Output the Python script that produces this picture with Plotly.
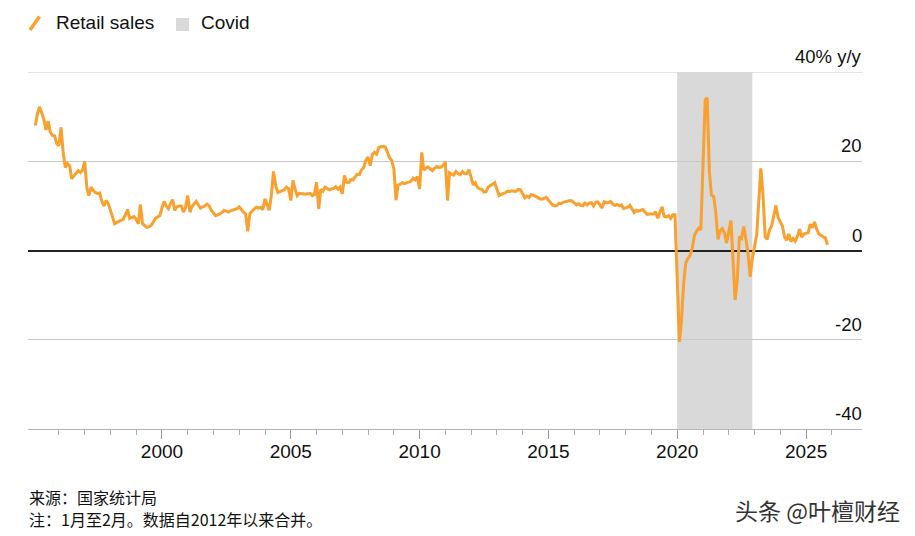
import pandas as pd
import plotly.graph_objects as go

# ---- data: China retail sales, % y/y, monthly (Feb 1995 - Nov 2025) ----
# Since 2012 January is combined with February (January = None)
yoy_1995_1999 = [
    28.0, 30.5, 32.2, 31.0, 29.5, 27.0, 29.0, 26.5, 25.8, 25.7, 24.0,          # 1995 Feb-Dec
    23.5, 27.6, 22.0, 18.6, 19.5, 19.0, 16.1, 16.8, 17.5, 17.9, 17.5, 18.0,    # 1996
    19.9, 14.0, 12.3, 14.2, 13.5, 13.0, 12.8, 12.9, 11.0, 10.0, 11.2, 10.5,    # 1997
    9.0, 7.5, 6.0, 6.3, 6.5, 6.7, 7.0, 8.0, 9.2, 7.2, 7.4, 7.6,                # 1998
    7.0, 6.0, 10.3, 6.0, 5.6, 5.2, 5.3, 5.6, 6.4, 7.2, 7.5, 7.8,               # 1999
]
yoy_2000_2004 = [
    9.5, 11.0, 10.0, 9.4, 10.5, 11.4, 9.0, 9.8, 10.0, 10.0, 8.6, 9.7,          # 2000
    12.3, 8.6, 9.8, 10.5, 11.0, 10.2, 9.5, 9.8, 10.0, 10.4, 10.0, 9.0,         # 2001
    8.5, 7.8, 8.0, 8.2, 8.5, 9.0, 8.8, 8.6, 8.9, 9.1, 9.3, 9.4,                # 2002
    9.8, 9.0, 8.6, 8.2, 4.3, 8.3, 8.9, 9.3, 9.7, 9.5, 9.7, 9.1,                # 2003
    11.6, 10.0, 9.0, 12.5, 17.7, 14.5, 13.0, 13.2, 13.4, 13.6, 14.2, 13.8,     # 2004
]
yoy_2005_2009 = [
    11.2, 15.7, 13.9, 12.3, 12.8, 12.7, 12.7, 12.6, 12.7, 12.8, 12.3, 12.5,    # 2005
    15.3, 9.3, 13.7, 13.3, 14.2, 13.9, 13.6, 13.8, 13.9, 14.3, 13.7, 14.2,     # 2006
    12.7, 16.8, 15.3, 15.2, 15.9, 15.8, 16.4, 17.1, 17.0, 18.1, 18.6, 20.2,    # 2007
    20.9, 19.0, 21.5, 22.0, 21.6, 23.0, 23.3, 23.2, 23.2, 22.0, 20.8, 20.2,    # 2008
    18.3, 11.3, 14.7, 14.8, 15.2, 15.0, 15.2, 15.4, 15.5, 16.2, 15.8, 16.6,    # 2009
]
yoy_2010_2014 = [
    13.8, 22.0, 18.0, 18.5, 18.7, 18.3, 17.9, 18.4, 18.8, 18.6, 18.7, 19.1,    # 2010
    19.8, 11.2, 17.4, 17.1, 16.9, 17.7, 17.2, 17.0, 17.7, 17.2, 17.3, 18.1,    # 2011
    None, 14.7, 15.2, 14.1, 13.8, 13.7, 13.1, 13.2, 14.2, 14.5, 14.9, 15.2,    # 2012
    None, 12.3, 12.6, 12.8, 12.9, 13.3, 13.2, 13.4, 13.3, 13.3, 13.7, 13.6,    # 2013
    None, 11.8, 12.2, 11.9, 12.5, 12.4, 12.2, 11.9, 11.6, 11.5, 11.7, 11.9,    # 2014
]
yoy_2015_2019 = [
    None, 10.7, 10.2, 10.0, 10.1, 10.6, 10.5, 10.8, 10.9, 11.0, 11.2, 11.1,    # 2015
    None, 10.2, 10.5, 10.1, 10.0, 10.6, 10.2, 10.6, 10.7, 10.0, 10.8, 10.9,    # 2016
    None, 9.5, 10.9, 10.7, 10.7, 11.0, 10.4, 10.1, 10.3, 10.0, 10.2, 9.4,      # 2017
    None, 9.7, 10.1, 9.4, 8.5, 9.0, 8.8, 9.0, 9.2, 8.6, 8.1, 8.2,              # 2018
    None, 8.2, 8.7, 7.2, 8.6, 9.8, 7.6, 7.5, 7.8, 7.2, 8.0, 8.0,               # 2019
]
yoy_2020_2025 = [
    None, -20.5, -15.8, -7.5, -2.8, -1.8, -1.1, 0.5, 3.3, 4.3, 5.0, 4.6,       # 2020
    None, 33.8, 34.2, 17.7, 12.4, 12.1, 8.5, 2.5, 4.4, 4.9, 3.9, 1.7,          # 2021
    None, 6.7, -3.5, -11.1, -6.7, 3.1, 2.7, 5.4, 2.5, -0.5, -5.9, -1.8,        # 2022
    None, 3.5, 10.6, 18.4, 12.7, 3.1, 2.5, 4.6, 5.5, 7.6, 10.1, 7.4,           # 2023
    None, 5.5, 3.1, 2.3, 3.7, 2.0, 2.7, 2.1, 3.2, 4.8, 3.0, 3.7,               # 2024
    None, 4.0, 5.9, 5.1, 6.4, 4.8, 3.7, 3.4, 3.0, 2.9, 1.3,                    # 2025
]
first_month = "1995-02-01"
last_month = "2025-11-01"

covid_start = "2020-01-01"
covid_end = "2022-12-01"

xtick_years = [2000, 2005, 2010, 2015, 2020, 2025]
xminor_years = list(range(1996, 2027))

ytick_vals = [40, 20, 0, -20, -40]
ytick_text = ["40% y/y", "20", "0", "-20", "-40"]

legend_labels = ["Retail sales", "Covid"]
source_lines = ["来源：国家统计局", "注：1月至2月。数据自2012年以来合并。"]
watermark = "头条 @叶檀财经"

# ---- build ----
values = yoy_1995_1999 + yoy_2000_2004 + yoy_2005_2009 + yoy_2010_2014 + yoy_2015_2019 + yoy_2020_2025
dates = pd.date_range(first_month, last_month, freq="MS")
assert len(dates) == len(values)

ORANGE = "#F9A02E"
LATIN = "Liberation Sans, Arial, Helvetica, sans-serif"
CJK = "Noto Sans CJK SC, sans-serif"

# page offset (body margin of the html page)
OFF = 8
W, H = 907, 528
L, R, T, B = 20, 53, 64, 107
pw, ph = W - L - R, H - T - B


def px(xp):  # page pixel x -> paper
    return (xp - OFF - L) / pw


def py(yp):  # page pixel y -> paper
    return (H - B - (yp - OFF)) / ph


fig = go.Figure()
fig.add_trace(go.Scatter(
    x=dates, y=values, mode="lines", connectgaps=True,
    line=dict(color=ORANGE, width=3), name=legend_labels[0], showlegend=False,
))

# Covid shading
fig.add_shape(type="rect", xref="x", yref="y", x0=covid_start, x1=covid_end,
              y0=-40, y1=40, fillcolor="#d9d9d9", line=dict(width=0), layer="below")

# top gridline (edge gridlines are not drawn by plotly)
fig.add_shape(type="line", xref="paper", yref="y", x0=0, x1=1, y0=ytick_vals[0], y1=ytick_vals[0],
              line=dict(color="#c8c8c8", width=1), layer="below")

# manual legend
fig.add_shape(type="line", xref="paper", yref="paper",
              x0=px(30), y0=py(30), x1=px(39.5), y1=py(16.5),
              line=dict(color=ORANGE, width=3.5))
fig.add_shape(type="rect", xref="paper", yref="paper",
              x0=px(176), y0=py(31), x1=px(189), y1=py(18),
              fillcolor="#d9d9d9", line=dict(width=0))
fig.add_annotation(xref="paper", yref="paper", x=px(54), y=py(22), text=legend_labels[0],
                   showarrow=False, xanchor="left", yanchor="middle",
                   font=dict(family=LATIN, size=19, color="#111"))
fig.add_annotation(xref="paper", yref="paper", x=px(199), y=py(22), text=legend_labels[1],
                   showarrow=False, xanchor="left", yanchor="middle",
                   font=dict(family=LATIN, size=19, color="#111"))

# y labels above the gridlines on the right
for v, t in zip(ytick_vals, ytick_text):
    fig.add_annotation(xref="paper", yref="y", x=1, y=v, text=t, showarrow=False,
                       xanchor="right", yanchor="bottom", yshift=3, xshift=2,
                       font=dict(family=LATIN, size=18.5, color="#111"))

# source notes
for i, s in enumerate(source_lines):
    fig.add_annotation(xref="paper", yref="paper", x=px(27), y=py(497 + 22 * i), text=s,
                       showarrow=False, xanchor="left", yanchor="middle",
                       font=dict(family=CJK, size=16, color="#111"))
fig.add_annotation(xref="paper", yref="paper", x=px(902), y=py(510), text=watermark,
                   showarrow=False, xanchor="right", yanchor="middle",
                   font=dict(family=CJK, size=23, color="#333"))

fig.update_layout(
    width=W, height=H,
    margin=dict(l=L, r=R, t=T, b=B, autoexpand=False),
    paper_bgcolor="white", plot_bgcolor="white",
    showlegend=False,
    font=dict(family=LATIN, size=18, color="#111"),
    xaxis=dict(
        type="date", automargin=False,
        range=["1994-10-20", "2027-03-05"],
        tickmode="array",
        tickvals=[f"{y}-01-01" for y in xtick_years],
        ticktext=[str(y) for y in xtick_years],
        ticks="outside", ticklen=9, tickwidth=1, tickcolor="#999",
        ticklabelstandoff=-4,
        showline=True, linecolor="#b5b5b5", linewidth=1,
        showgrid=False, zeroline=False,
        tickfont=dict(family=LATIN, size=19, color="#111"),
        minor=dict(tickmode="array", tickvals=[f"{y}-01-01" for y in xminor_years],
                   ticks="outside", ticklen=5, tickcolor="#aaa", showgrid=False),
    ),
    yaxis=dict(
        automargin=False,
        range=[-40, 40], tickvals=ytick_vals, showticklabels=False,
        showgrid=True, gridcolor="#c8c8c8", gridwidth=1,
        zeroline=True, zerolinecolor="#222", zerolinewidth=1.5,
        showline=False, ticks="",
    ),
)

fig.write_html("out.html")
